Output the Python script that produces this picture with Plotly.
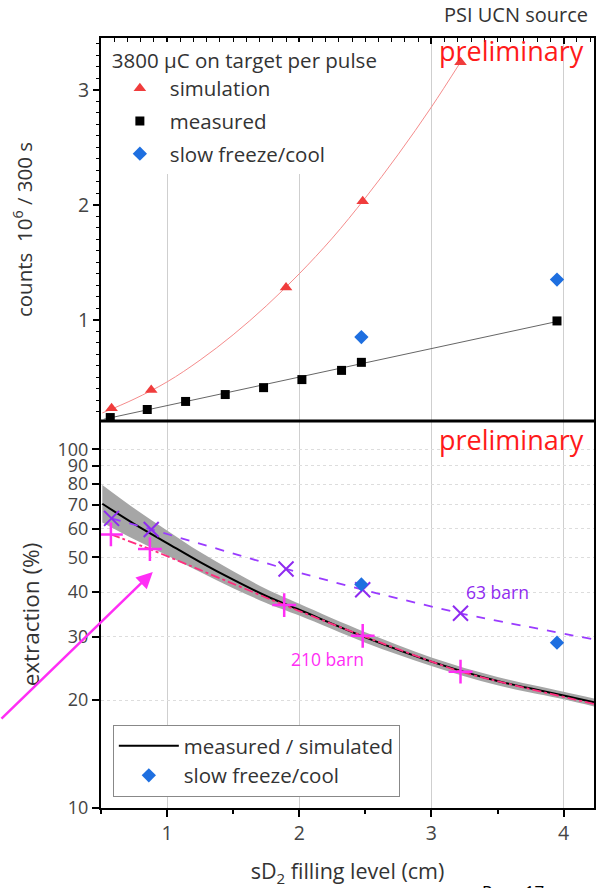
import plotly.graph_objects as go

# ---------------- data ----------------
# top panel: counts (10^6 / 300 s) vs sD2 filling level (cm)
sim_x = [0.58, 0.88, 1.90, 2.48, 3.22]
sim_y = [0.23, 0.39, 1.28, 2.03, 3.24]
sim_fit_x = [0.51, 0.75, 1.0, 1.25, 1.5, 1.75, 2.0, 2.25, 2.5, 2.75, 3.0, 3.22]
sim_fit_y = [0.19, 0.31, 0.46, 0.65, 0.87, 1.12, 1.40, 1.71, 2.06, 2.44, 2.85, 3.24]

meas_x = [0.57, 0.85, 1.14, 1.44, 1.73, 2.02, 2.32, 2.47, 3.95]
meas_y = [0.15, 0.22, 0.29, 0.35, 0.41, 0.48, 0.56, 0.63, 0.99]
meas_fit_x = [0.52, 1.5, 2.5, 3.95]
meas_fit_y = [0.135, 0.378, 0.626, 0.985]

slow_x = [2.47, 3.95]
slow_counts = [0.85, 1.35]
slow_extraction = [42.0, 28.9]

# bottom panel: extraction (%) vs filling level
ms_x = [0.51, 0.75, 1.0, 1.25, 1.5, 1.75, 2.0, 2.5, 3.0, 3.5, 4.0, 4.23]
ms_y = [70.5, 62.0, 54.8, 48.5, 43.3, 39.0, 35.7, 29.9, 25.6, 22.6, 20.6, 19.7]
ms_hi = [79.5, 68.5, 59.4, 51.7, 45.7, 40.8, 37.1, 30.9, 26.3, 23.2, 21.1, 20.2]
ms_lo = [62.5, 56.1, 50.6, 45.5, 41.0, 37.3, 34.4, 28.9, 24.9, 22.0, 20.1, 19.2]

b63_x = [0.58, 0.88, 1.90, 2.48, 3.22]
b63_y = [64.2, 59.8, 46.4, 40.6, 34.9]
b63_line_x = [0.58, 0.88, 1.90, 2.48, 3.22, 4.23]
b63_line_y = [64.2, 59.8, 46.4, 40.6, 34.9, 29.5]

b210_x = [0.575, 0.87, 1.886, 2.48, 3.22]
b210_y = [57.9, 52.7, 36.8, 30.2, 24.0]
b210_line_x = [0.575, 0.87, 1.886, 2.48, 3.22, 4.23]
b210_line_y = [57.9, 52.7, 36.8, 30.2, 24.0, 19.5]

x_range = [0.5, 4.23]
top_y_range = [0.12, 3.45]
bot_y_ticks = [10, 20, 30, 40, 50, 60, 70, 80, 90, 100]

# ---------------- styling ----------------
FONT = "Open Sans"
TXT = "#333333"
RED = "#F03C3C"
BLUE = "#1E6FE0"
PURPLE = "#8F2BF0"
MAGENTA = "#FF2EF5"
PINK = "#FF2E7E"
GRID = "#cfcfcf"
split = 0.5026
LEGFONT = 20.5

fig = go.Figure()

# ---- top panel ----
fig.add_trace(go.Scatter(x=sim_fit_x, y=sim_fit_y, xaxis="x2", yaxis="y2", mode="lines",
                         line=dict(color="#F58C8C", width=1, shape="spline"),
                         showlegend=False, hoverinfo="skip"))
fig.add_trace(go.Scatter(x=meas_fit_x, y=meas_fit_y, xaxis="x2", yaxis="y2", mode="lines",
                         line=dict(color="#666666", width=1),
                         showlegend=False, hoverinfo="skip"))
fig.add_trace(go.Scatter(x=sim_x, y=sim_y, xaxis="x2", yaxis="y2", mode="markers",
                         marker=dict(symbol="triangle-up", color=RED, size=11),
                         name="simulation", legend="legend", legendgroup="a"))
fig.add_trace(go.Scatter(x=meas_x, y=meas_y, xaxis="x2", yaxis="y2", mode="markers",
                         marker=dict(symbol="square", color="black", size=9),
                         name="measured", legend="legend", legendgroup="b"))
fig.add_trace(go.Scatter(x=slow_x, y=slow_counts, xaxis="x2", yaxis="y2", mode="markers",
                         marker=dict(symbol="diamond", color=BLUE, size=11),
                         name="slow freeze/cool", legend="legend", legendgroup="c"))

# ---- bottom panel ----
fig.add_trace(go.Scatter(x=ms_x, y=ms_hi, mode="lines", line=dict(width=0, color="rgba(0,0,0,0)", shape="spline"),
                         showlegend=False, hoverinfo="skip"))
fig.add_trace(go.Scatter(x=ms_x, y=ms_lo, mode="lines", line=dict(width=0, color="rgba(0,0,0,0)", shape="spline"),
                         fill="tonexty", fillcolor="#a6a6a6", showlegend=False, hoverinfo="skip"))
fig.add_trace(go.Scatter(x=ms_x, y=ms_y, mode="lines", line=dict(color="black", width=2, shape="spline"),
                         name="measured / simulated", legend="legend2", legendgroup="d"))
fig.add_trace(go.Scatter(x=b63_line_x, y=b63_line_y, mode="lines",
                         line=dict(color="#9A3BFF", width=1.8, dash="dash", shape="spline", smoothing=0.5),
                         showlegend=False, hoverinfo="skip"))
fig.add_trace(go.Scatter(x=b210_line_x, y=b210_line_y, mode="lines",
                         line=dict(color=PINK, width=1.8, dash="dashdot", shape="spline", smoothing=0.5),
                         showlegend=False, hoverinfo="skip"))
fig.add_trace(go.Scatter(x=b63_x, y=b63_y, mode="markers",
                         marker=dict(symbol="x-thin", size=15, line=dict(color=PURPLE, width=2)),
                         showlegend=False))
fig.add_trace(go.Scatter(x=b210_x, y=b210_y, mode="markers",
                         marker=dict(symbol="cross-thin", size=17, line=dict(color=MAGENTA, width=2.5)),
                         showlegend=False))
fig.add_trace(go.Scatter(x=slow_x, y=slow_extraction, mode="markers",
                         marker=dict(symbol="diamond", color=BLUE, size=11),
                         name="slow freeze/cool", legend="legend2", legendgroup="e"))

tickfont = dict(family=FONT, size=19.5, color="#444444")
logtickfont = dict(family=FONT, size=18, color="#444444")

fig.update_layout(
    width=600, height=888,
    margin=dict(l=101, r=4, t=38, b=80),
    paper_bgcolor="white", plot_bgcolor="white",
    font=dict(family=FONT, color=TXT),
    xaxis=dict(domain=[0, 1], anchor="y", range=x_range, dtick=1, tick0=0,
               showline=True, linecolor="black", linewidth=2,
               ticks="outside", ticklen=7, tickwidth=1.5, tickcolor="black",
               minor=dict(dtick=0.5, ticks="outside", ticklen=4, tickwidth=1.5, tickcolor="black", showgrid=False),
               showgrid=True, gridcolor=GRID, gridwidth=1, zeroline=False,
               tickfont=tickfont,
               title=dict(text="sD<sub>2</sub> filling level (cm)", font=dict(size=21.5, color=TXT), standoff=20)),
    yaxis=dict(domain=[0, split], anchor="x", type="log", range=[1, 2.079],
               tickvals=bot_y_ticks, ticktext=[str(v) for v in bot_y_ticks],
               showline=True, linecolor="black", linewidth=2, mirror=True,
               ticks="outside", ticklen=7, tickwidth=1.5, tickcolor="black",
               showgrid=True, gridcolor="#dddddd", griddash="dot", gridwidth=1, zeroline=False,
               tickfont=logtickfont,
               title=dict(text="extraction (%)", font=dict(size=22.5, color=TXT), standoff=12)),
    xaxis2=dict(domain=[0, 1], anchor="y2", matches="x", range=x_range, side="top", dtick=1, tick0=0,
                showticklabels=False, showline=True, linecolor="black", linewidth=2,
                ticks="inside", ticklen=6, tickwidth=1.5, tickcolor="black",
                minor=dict(dtick=0.1, ticks="inside", ticklen=4, tickwidth=1, tickcolor="black", showgrid=False),
                showgrid=True, gridcolor=GRID, gridwidth=1, zeroline=False),
    yaxis2=dict(domain=[split, 1], anchor="x2", range=top_y_range, dtick=1, tick0=0,
                showline=True, linecolor="black", linewidth=2, mirror=True,
                ticks="outside", ticklen=6, tickwidth=1.5, tickcolor="black",
                minor=dict(dtick=0.1, ticks="outside", ticklen=3, tickwidth=1, tickcolor="black", showgrid=False),
                showgrid=False, zeroline=False, tickfont=tickfont,
                title=dict(text="counts  10<sup>6</sup> / 300 s", font=dict(size=20.5, color=TXT), standoff=40)),
    legend=dict(x=0.018, y=0.995, xanchor="left", yanchor="top", bgcolor="white", borderwidth=0,
                font=dict(size=LEGFONT, color=TXT), tracegroupgap=3, itemwidth=50,
                title=dict(text="3800 μC on target per pulse", font=dict(size=LEGFONT, color=TXT))),
    legend2=dict(x=0.024, y=0.108, xanchor="left", yanchor="top", bgcolor="white",
                 bordercolor="#888888", borderwidth=1, font=dict(size=LEGFONT, color=TXT),
                 tracegroupgap=0, itemwidth=60),
    shapes=[dict(type="line", xref="paper", yref="paper", x0=0, x1=1, y0=split, y1=split,
                 line=dict(color="black", width=3))],
    annotations=[
        dict(text="preliminary", xref="paper", yref="paper", x=0.984, y=0.984, xanchor="right", yanchor="middle",
             showarrow=False, font=dict(size=27, color="#FF1A1A")),
        dict(text="preliminary", xref="paper", yref="paper", x=0.984, y=0.478, xanchor="right", yanchor="middle",
             showarrow=False, font=dict(size=27, color="#FF1A1A")),
        dict(text="PSI UCN source", xref="paper", yref="paper", x=0.992, y=1.03, xanchor="right", yanchor="middle",
             showarrow=False, font=dict(size=20, color=TXT)),
        dict(text="63 barn", xref="x", yref="y", x=3.50, y=1.602, showarrow=False,
             font=dict(size=17.5, color=PURPLE)),
        dict(text="210 barn", xref="x", yref="y", x=2.213, y=1.415, showarrow=False,
             font=dict(size=17.5, color=MAGENTA)),
        dict(text="Page 17", xref="paper", yref="paper", x=0.836, y=-0.0909, xanchor="center", yanchor="top",
             showarrow=False, font=dict(size=17, color="black")),
        dict(text="", xref="paper", yref="paper", x=(153 - 101) / 495, y=(808 - 572) / 770,
             ax=-156, ay=148, showarrow=True, arrowhead=2, arrowsize=1.3, arrowwidth=2.5,
             arrowcolor=MAGENTA),
    ],
)

fig.write_html("out.html")
